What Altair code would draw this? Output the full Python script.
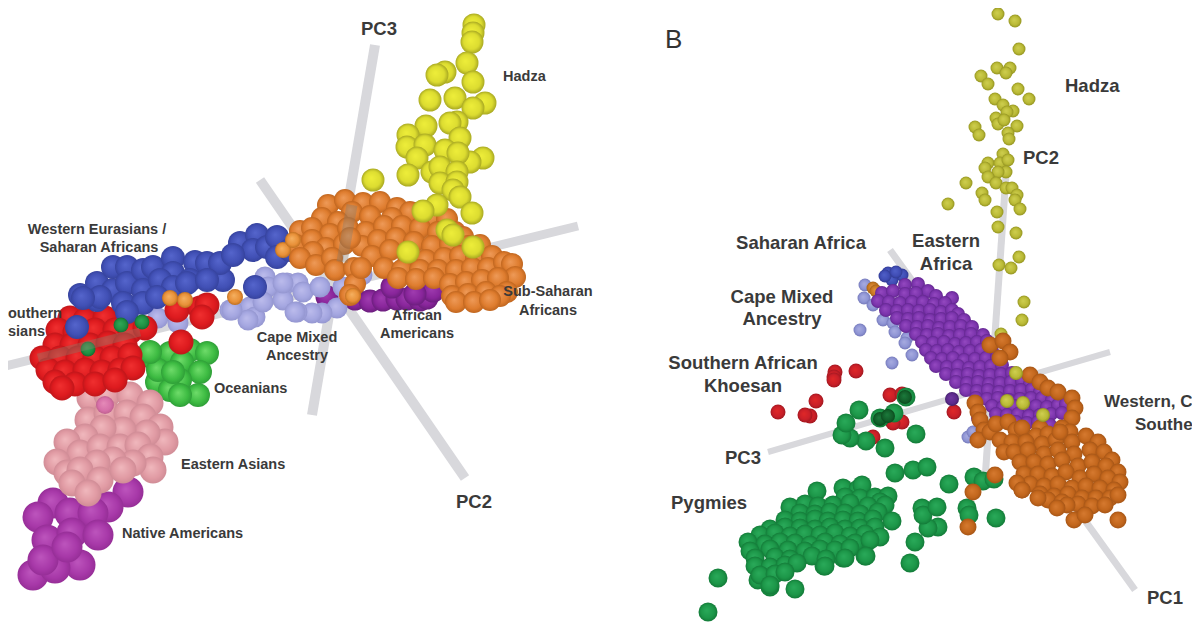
import altair as alt
import pandas as pd

# ---------- axes: (x, y, x2, y2, thickness) ----------
axes_rows = [
    (375, 45, 312, 415, 10), (260, 180, 465, 478, 10), (5, 366, 578, 226, 9),
    (1007, 160, 985, 480, 7), (768, 452, 1110, 352, 6), (890, 250, 1135, 590, 7),
]
axes_over = [(352, 205, 342, 262, 11), (38, 358, 140, 332, 9)]

# ---------- left panel ----------
hadza_l = [(474,25),(473,33),(472,42),(467,63),(445,72),(437,75),(473,82),(430,100),(455,98),(485,103),
           (473,108),(457,122),(450,123),(426,126),(408,135),(407,147),(460,138),(425,145),(417,158),(445,150),
           (483,158),(470,162),(458,153),(408,175),(432,172),(440,167),(457,172),(440,183),(457,182),(453,190),
           (460,197),(373,180),(437,205),(423,211),(472,213),(447,230),(453,235),(473,247),(408,252)]
orange_l = [(328,205),(345,200),(363,203),(380,202),(397,208),(417,213),(410,212),(352,212),(322,218),(338,222),
            (370,216),(392,218),(432,218),(447,219),(300,231),(312,228),(330,234),(348,228),(366,232),(384,226),
            (402,226),(420,228),(438,232),(455,232),(463,237),(296,245),(312,240),(326,248),(344,244),(362,246),
            (378,240),(396,238),(414,242),(432,246),(450,244),(468,246),(480,245),(313,252),(300,258),(316,265),
            (332,258),(350,238),(372,256),(390,250),(408,256),(426,260),(444,258),(460,256),(476,258),(492,256),
            (335,270),(354,268),(384,268),(402,270),(420,270),(438,270),(456,270),(472,268),(488,268),(504,262),
            (512,264),(515,277),(398,278),(416,279),(434,278),(450,284),(466,282),(482,280),(498,278),(507,292),
            (452,296),(468,294),(486,292),(500,296),(456,302),(474,302),(490,300),(355,284),(350,295),(361,268)]
blue_l = [(80,295),(97,283),(113,267),(127,267),(113,290),(97,300),(127,283),(143,270),(153,267),(143,290),
          (123,303),(173,258),(173,273),(160,280),(173,287),(195,262),(190,280),(213,273),(223,280),(207,263),
          (220,263),(240,243),(257,235),(253,250),(267,247),(277,237),(277,257),(233,255),(143,303),(127,312),
          (157,297),(187,283),(207,280),(100,297),(83,298),(255,287),(77,327),(290,250)]
lavender_l = [(265,277),(268,287),(287,283),(298,283),(303,292),(320,287),(343,287),(337,308),(322,313),(312,313),
              (297,312),(230,310),(250,307),(255,317),(248,320),(263,302),(283,300),(178,323),(158,318),(232,310),
              (283,283),(295,312),(362,275)]
purple_l = [(355,299),(370,301),(383,300),(397,299),(407,299),(420,300),(427,298),(433,291),(392,287),(415,294),(327,297)]
orange_dots_l = [(235,297),(185,300),(170,298),(353,296),(283,250),(293,240)]
red_l = [(70,318),(85,320),(105,318),(58,330),(75,332),(95,330),(115,330),(130,332),(145,328),(55,345),(72,345),
         (90,345),(108,343),(125,345),(42,358),(60,358),(78,358),(95,358),(112,358),(130,355),(48,370),(65,372),
         (85,370),(102,372),(120,370),(133,368),(55,382),(75,384),(95,384),(115,380),(62,388),
         (177,310),(200,308),(207,305),(202,317),(181,342)]
green_l = [(153,358),(170,353),(190,350),(207,353),(182,362),(200,372),(157,382),(180,380),(170,390),(198,395),
           (180,395),(158,370),(173,372),(150,352)]
dark_green_l = [(121,325),(142,322),(88,349)]
pink_l = [(90,398),(107,395),(130,395),(150,403),(88,420),(107,413),(127,413),(143,417),(160,427),(165,442),
          (147,433),(123,430),(103,428),(85,437),(67,442),(80,453),(100,447),(120,447),(138,445),(150,457),
          (153,470),(133,463),(113,460),(97,463),(57,462),(67,473),(80,470),(100,480),(123,470),(72,483),(88,493)]
pink_hi_l = [(105,405),(128,365),(118,358)]
magenta_l = [(128,492),(108,507),(53,503),(38,517),(70,513),(93,513),(47,540),(72,533),(98,535),(80,565),
             (33,575),(55,568),(43,560),(67,547)]

# ---------- right panel ----------
hadza_r = [(998,14),(1015,21),(1019,49),(997,68),(1010,68),(1006,73),(981,76),(988,84),(1018,89),(1029,99),
           (995,99),(1003,105),(1013,111),(1007,112),(996,118),(998,124),(1004,120),(1017,126),(975,127),(979,135),
           (1008,133),(1009,139),(1003,154),(988,163),(985,168),(1000,163),(1008,160),(1006,172),(998,172),(988,177),
           (996,183),(1006,188),(1012,188),(1017,195),(1015,200),(966,183),(982,193),(985,200),(948,204),(1020,209),
           (997,212),(998,227),(1016,233),(1019,257),(1011,268),(999,265),(1024,302),(1022,320),(1001,334)]
hadza_over_r = [(1016,373),(1007,401),(1023,403),(1043,415)]
purple_r = [(905,285),(918,284),(928,291),(882,293),(893,291),(905,294),(916,293),(936,296),(952,298),
            (878,301),(889,302),(900,303),(912,302),(923,302),(934,304),(945,303),(886,310),(897,311),(908,310),
            (919,311),(930,310),(941,312),(952,310),(958,314),(897,318),(908,319),(919,318),(930,320),(941,319),
            (952,318),(964,320),(906,326),(917,327),(928,326),(939,328),(950,327),(961,326),(972,327),(916,334),
            (927,335),(938,334),(949,336),(960,335),(971,334),(983,335),(922,342),(933,343),(944,342),(955,344),
            (966,343),(977,342),(987,341),(926,350),(937,351),(948,350),(959,352),(970,351),(981,350),(992,351),
            (931,358),(942,359),(953,358),(964,360),(975,359),(986,358),(997,357),(936,366),(947,367),(958,366),
            (969,368),(980,367),(991,366),(1002,365),(946,374),(957,375),(968,374),(979,376),(990,375),(1001,374),
            (1012,373),(956,382),(967,383),(978,382),(989,384),(1000,383),(1011,382),(1022,381),(1030,384),(966,390),
            (977,391),(988,390),(999,392),(1010,391),(1021,390),(1032,389),(1040,392),(976,398),(987,399),(998,398),
            (1009,400),(1020,399),(1031,398),(1042,398),(1052,400),(992,406),(1003,407),(1014,406),(1025,408),(1036,406),
            (1047,407),(1058,405),(1066,404),(996,414),(1007,415),(1018,414),(1029,416),(1040,415),(1051,414),(1062,413),
            (1016,422),(1027,423),(1038,422),(1050,425),(978,418)]
orange_r = [(990,345),(1003,341),(1010,352),(1000,358),(1030,375),(1040,382),(1048,388),(1058,392),(1072,398),(1075,408),
            (1072,418),(1062,428),(975,403),(978,412),(980,420),(984,430),(978,440),(990,432),(996,424),(1008,422),
            (1016,430),(1022,428),(1040,428),(1036,436),(1048,434),(1070,432),(1000,440),(1012,442),(1026,442),(1042,444),
            (1056,440),(1072,442),(1086,436),(1098,442),(1004,452),(1014,452),(1028,450),(1044,454),(1058,450),(1074,454),
            (1090,450),(1104,452),(1112,460),(1020,462),(1034,462),(1048,464),(1062,460),(1078,466),(1092,462),(1106,466),
            (1118,472),(1024,474),(1038,474),(1052,476),(1066,472),(1080,478),(1094,474),(1108,478),(1120,482),(1030,484),
            (1044,486),(1058,484),(1072,488),(1086,486),(1100,488),(1114,490),(1040,494),(1054,496),(1068,494),(1082,498),
            (1096,498),(1110,498),(1048,500),(1062,502),(1078,504),(1092,506),(1118,520),(1074,520),(1085,515),(1067,505),
            (1057,508),(1105,505),(1118,495),(1038,498),(1022,490),(1017,483),(968,527),(973,492),(995,475),(1022,490),(1060,432)]
green_r = [(718,578),(708,612),(795,589),(770,587),(758,580),(910,563),(915,542),(865,556),(843,558),(824,566),
           (803,555),(996,518),(967,508),(969,515),(938,527),(928,528),(922,508),(923,515),(937,507),(949,484),
           (974,477),(983,481),(994,479),(895,473),(913,470),(927,467),(885,448),(916,434),(866,441),(850,438),
           (842,435),(846,423),(859,410),(894,413),(880,418),(906,397),
           (817,491),(843,488),(858,489),(862,485),(845,497),(860,498),(875,497),(888,496),(880,502),
           (790,507),(805,504),(818,506),(833,505),(850,503),(868,506),(885,505),
           (800,513),(815,514),(830,512),(845,513),(860,514),(878,512),
           (785,520),(800,521),(815,519),(828,521),(843,520),(858,521),(873,519),(892,521),
           (770,529),(785,527),(800,528),(815,529),(830,527),(845,529),(860,528),(875,527),
           (760,535),(775,533),(790,536),(805,534),(820,535),(835,533),(850,536),(865,534),(880,537),
           (748,542),(765,544),(780,542),(795,543),(810,545),(825,542),(840,544),(855,543),(870,540),
           (750,551),(770,549),(788,550),(805,551),(820,549),(835,550),(850,548),
           (755,558),(775,557),(790,559),(812,556),(826,559),(845,558),(866,556),
           (755,566),(770,567),(785,565),(797,563),(825,566),(760,575),(775,574),(785,572),(770,585)]
red_r = [(835,372),(834,377),(856,371),(890,395),(902,394),(954,412),(902,422),(893,423),(883,418),(873,437),
         (778,412),(816,401),(810,416),(805,415),(834,380)]
dark_green_r = [(905,397),(880,419),(888,416)]
lavender_r = [(860,330),(865,285),(864,298),(873,305),(883,320),(893,323),(895,332),(907,338),(905,343),(912,355),
              (892,363),(968,437),(973,432)]
blue_r = [(888,273),(902,275),(892,280),(885,276),(896,272)]
orange_bit_r = [(873,288),(876,291)]
purple_bit_r = [(952,399)]

# ---------- labels ----------
SMALL, BIG = 14.5, 18.5
labels = [
    ("PC3", 379, 29, BIG, "center"), ("Hadza", 503, 77, SMALL, "left"),
    ("Western Eurasians /", 97, 230, SMALL, "center"), ("Saharan Africans", 99, 248, SMALL, "center"),
    ("outhern", 8, 314, SMALL, "left"), ("sians", 8, 332, SMALL, "left"),
    ("Cape Mixed", 297, 338, SMALL, "center"), ("Ancestry", 297, 356, SMALL, "center"),
    ("African", 417, 316, SMALL, "center"), ("Americans", 417, 334, SMALL, "center"),
    ("Sub-Saharan", 548, 292, SMALL, "center"), ("Africans", 548, 311, SMALL, "center"),
    ("Oceanians", 214, 389, SMALL, "left"), ("Eastern Asians", 181, 465, SMALL, "left"),
    ("Native Americans", 122, 534, SMALL, "left"), ("PC2", 474, 502, BIG, "center"),
    ("Hadza", 1065, 86, BIG, "left"), ("PC2", 1023, 158, BIG, "left"),
    ("Saharan Africa", 801, 243, BIG, "center"), ("Eastern", 946, 241, BIG, "center"),
    ("Africa", 946, 264, BIG, "center"), ("Cape Mixed", 782, 297, BIG, "center"),
    ("Ancestry", 782, 319, BIG, "center"), ("Southern African", 743, 363, BIG, "center"),
    ("Khoesan", 743, 386, BIG, "center"), ("PC3", 743, 458, BIG, "center"),
    ("Pygmies", 671, 503, BIG, "left"), ("PC1", 1147, 598, BIG, "left"),
    ("Western, C", 1104, 402, 17, "left"), ("Southe", 1135, 425, 17, "left"),
]
panel_letter = [("B", 665, 40)]

# ---------- helpers ----------
X = alt.Scale(domain=[8, 1192], nice=False, zero=False)
Y = alt.Scale(domain=[622, 8], nice=False, zero=False)


def balls(points, light, base, dark, diameter):
    df = pd.DataFrame(points, columns=["x", "y"])
    fill = alt.RadialGradient(
        gradient="radial", x1=0.42, y1=0.4, r1=0, x2=0.5, y2=0.5, r2=0.5,
        stops=[alt.GradientStop(color=light, offset=0),
               alt.GradientStop(color=base, offset=0.7),
               alt.GradientStop(color=dark, offset=1)],
    )
    return alt.Chart(df).mark_circle(fill=fill, opacity=1, size=diameter ** 2).encode(
        x=alt.X("x:Q", scale=X, axis=None), y=alt.Y("y:Q", scale=Y, axis=None)
    )


def rods(rows, color, opacity):
    df = pd.DataFrame(rows, columns=["x", "y", "x2", "y2", "w"])
    return alt.Chart(df).mark_rule(color=color, opacity=opacity, strokeCap="butt").encode(
        x=alt.X("x:Q", scale=X, axis=None), y=alt.Y("y:Q", scale=Y, axis=None),
        x2="x2:Q", y2="y2:Q", strokeWidth=alt.StrokeWidth("w:Q", scale=None, legend=None),
    )


def texts(rows, align):
    df = pd.DataFrame([r for r in rows if r[4] == align], columns=["t", "x", "y", "s", "a"])
    return alt.Chart(df).mark_text(
        align=align, baseline="middle", font="Liberation Sans", fontWeight="bold", color="#3a3a3a"
    ).encode(
        x=alt.X("x:Q", scale=X, axis=None), y=alt.Y("y:Q", scale=Y, axis=None),
        text="t:N", size=alt.Size("s:Q", scale=None, legend=None),
    )


letter_df = pd.DataFrame(panel_letter, columns=["t", "x", "y"])
letter = alt.Chart(letter_df).mark_text(
    align="left", baseline="middle", font="Liberation Sans", fontSize=26, color="#333333"
).encode(x=alt.X("x:Q", scale=X, axis=None), y=alt.Y("y:Q", scale=Y, axis=None), text="t:N")

ORANGE = ("#ee9a58", "#de7c2e", "#c0661f")
layers = [
    rods(axes_rows, "#d8d8dc", 1),
    # left panel
    balls(green_l, "#6fdc6a", "#3dbb42", "#2f9f38", 24),
    balls(magenta_l, "#bd55bd", "#a738a8", "#962e97", 31),
    balls(pink_l, "#f0b8bd", "#e09aa3", "#d08c96", 27),
    balls(pink_hi_l, "#e58ab8", "#d670a8", "#c06090", 18),
    balls(purple_l, "#a03cb0", "#88259a", "#6c1e7e", 23),
    balls(lavender_l, "#bcbcec", "#a4a6e0", "#9496d0", 21),
    balls(red_l, "#f03030", "#dd1a1e", "#c0161a", 25),
    balls(blue_l, "#5565cc", "#4150b5", "#36439e", 24),
    balls(orange_l, *ORANGE, 22),
    balls(orange_dots_l, "#f5b060", "#e89038", "#c07020", 16),
    balls(dark_green_l, "#30a858", "#1f8f42", "#146d30", 15),
    balls(hadza_l, "#eeee3a", "#dcdc30", "#a8a822", 23),
    rods(axes_over, "#8a7a6a", 0.4),
    # right panel
    balls(hadza_r, "#cfcf50", "#b9b935", "#929220", 13),
    balls(red_r, "#e02828", "#c91f28", "#a01820", 15),
    balls(green_r, "#2aaa5a", "#1c9648", "#137a38", 19),
    balls(dark_green_r, "#1c7a3c", "#125f2a", "#0c4a1e", 14),
    balls(lavender_r, "#a8ace0", "#8e94d4", "#7478b8", 13),
    balls(blue_r, "#5060c8", "#3f4cb4", "#303a90", 13),
    balls(orange_bit_r, "#e09040", "#c87820", "#a06018", 13),
    balls(purple_r, "#9448c0", "#7a33ab", "#632790", 14),
    balls(purple_bit_r, "#7038a0", "#5c2a8c", "#44206c", 14),
    balls(orange_r, "#d67a30", "#c2661c", "#a55516", 17),
    balls(hadza_over_r, "#cfcf50", "#b9b935", "#929220", 14),
    texts(labels, "left"), texts(labels, "center"),
    letter,
]

chart = alt.layer(*layers).properties(
    width=1184, height=614, padding=0, autosize=alt.AutoSizeParams(type="none"), background="white"
).configure_view(stroke=None)

chart.save("out.html", embed_options={"renderer": "svg", "actions": False})
